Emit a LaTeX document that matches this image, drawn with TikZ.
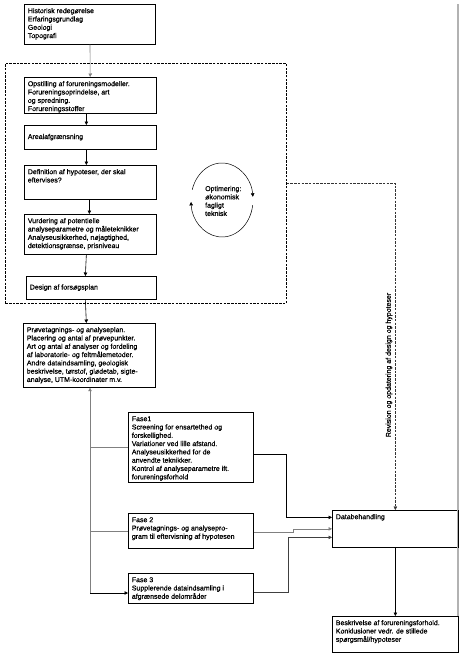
\documentclass[tikz,border=0pt]{standalone}
\usepackage{fontspec}
\setmainfont{Liberation Sans}[FakeBold=0.7]
\usetikzlibrary{arrows.meta}
\newcommand{\boxtext}[4][t]{\parbox[c][\dimexpr#3pt-6pt\relax][#1]{\dimexpr#2pt-7pt\relax}{\begin{tabular}[t]{@{}l@{}}#4\end{tabular}}}
\tikzset{
  box/.style={draw, line width=0.7pt, anchor=north west, inner xsep=3.5pt, inner ysep=3pt, font=\fontsize{7}{8.3}\selectfont},
  link/.style={-{Triangle[length=3.5pt,width=3.5pt]}, line width=0.6pt},
  dashline/.style={dash pattern=on 2.5pt off 1.2pt},
}
\begin{document}
\begin{tikzpicture}[x=1pt, y=-1pt]
  \useasboundingbox (0,0) rectangle (464,654);
  \node[draw, dashline, line width=0.7pt, anchor=north west, inner sep=0pt,
        minimum width=281, minimum height=240] (region) at (5,63) {};
  \node[box] (hist) at (24,4) {\boxtext{131}{40}{Historisk redegørelse\\Erfaringsgrundlag\\Geologi\\Topografi}};
  \node[box] (opst) at (24,77) {\boxtext{132}{36}{Opstilling af forureningsmodeller.\\Forureningsoprindelse, art\\og spredning.\\Forureningsstoffer}};
  \node[box] (areal) at (24,125) {\boxtext[c]{132}{24}{Arealafgrænsning}};
  \node[box] (defin) at (24,165) {\boxtext{132}{34}{Definition af hypoteser, der skal\\eftervises?}};
  \node[box] (vurd) at (24,214) {\boxtext{132}{40}{Vurdering af potentielle\\analyseparametre og måleteknikker\\Analyseusikkerhed, nøjagtighed,\\detektionsgrænse, prisniveau}};
  \node[box] (design) at (26,276) {\boxtext[c]{130}{23}{Design af forsøgsplan}};
  \node[box] (plan) at (23,323) {\boxtext{132}{64}{Prøvetagnings- og analyseplan.\\Placering og antal af prøvepunkter.\\Art og antal af analyser og fordeling\\af laboratorie- og feltmålemetoder.\\Andre dataindsamling, geologisk\\beskrivelse, tørstof, glødetab, sigte-\\analyse, UTM-koordinater m.v.}};
  \node[box] (fase1) at (128,412) {\boxtext{125}{70}{Fase1\\Screening for ensartethed og\\forskellighed.\\Variationer ved lille afstand.\\Analyseusikkerhed for de\\anvendte teknikker.\\Kontrol af analyseparametre ift.\\forureningsforhold}};
  \node[box] (fase2) at (128,513) {\boxtext{125}{35}{Fase 2\\Prøvetagnings- og analysepro-\\gram til eftervisning af hypotesen}};
  \node[box] (fase3) at (128,573) {\boxtext{125}{30}{Fase 3\\Supplerende dataindsamling i\\afgrænsede delområder}};
  \node[box] (datab) at (332,510) {\boxtext{126}{37}{Databehandling}};
  \node[box] (beskr) at (332,616) {\boxtext{126}{36}{Beskrivelse af forureningsforhold.\\Konklusioner vedr. de stillede\\spørgsmål/hypoteser}};
  \coordinate (optc) at (222,200);
  \node[font=\fontsize{7}{8.3}\selectfont, align=left, anchor=west, inner sep=0pt] (optim) at (205,201) {Optimering:\\økonomisk\\fagligt\\teknisk};
  \node[rotate=90, font=\fontsize{7}{8}\selectfont] (revlabel) at (389,365) {Revision og opdatering af design og hypoteser};
  \coordinate (loopbot) at (90,593);
  \draw[gray!60, line width=1.5pt] (458,4) -- (458,616);
  \draw[line width=1.4pt] (datab.north east) -- (datab.south east);
  \draw[line width=1.4pt] (beskr.north east) -- (beskr.south east);
  \begin{scope}[link]
    \draw[gray] (hist) -- (opst);
    \draw ([xshift=-4pt]opst.south) -- ([xshift=-4pt]areal.north);
    \draw ([xshift=-4pt]areal.south) -- ([xshift=-4pt]defin.north);
    \draw ([xshift=-1pt]defin.south) -- ([xshift=-1pt]vurd.north);
    \draw ([xshift=-4pt]vurd.south) -- ([xshift=-6pt]design.north);
    \draw ([xshift=-6pt]design.south) -- ([xshift=-3pt]plan.north);
    \draw[line width=0.5pt] (optc) ++(196:31 and 37) arc[start angle=196, end angle=355, x radius=31, y radius=37];
    \draw[line width=0.5pt] (optc) ++(8:31 and 37) arc[start angle=8, end angle=177, x radius=31, y radius=37];
    \draw[gray] (loopbot) -- (loopbot |- plan.south);
    \draw (loopbot) -- (loopbot -| fase3.west);
    \draw[-, gray] (fase1.west) -- (fase1.west -| loopbot);
    \draw[-, gray] (fase2.west) -- (fase2.west -| loopbot);
    \draw ([yshift=-7pt]fase1.east) -- ++(33,0) |- ([yshift=11.5pt]datab.west);
    \draw[gray] ([yshift=-1.5pt]fase2.east) -- ++(40,0) |- (datab.west);
    \draw[black!75] ([yshift=-4pt]fase3.east) -- ++(35,0) |- ([yshift=-8.5pt]datab.west);
    \draw (datab) -- (beskr);
    \draw[dashline, line width=0.45pt, black!80] (region.east) -| (datab.north);
  \end{scope}
\end{tikzpicture}
\end{document}
